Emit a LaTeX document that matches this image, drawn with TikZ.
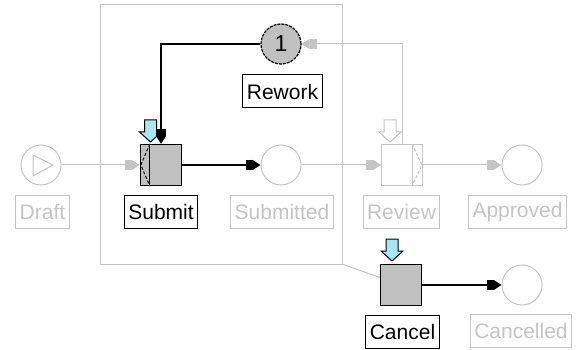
\documentclass[tikz,border=0pt]{standalone}
\usepackage{fontspec}
\setmainfont{Liberation Sans}
\usetikzlibrary{arrows.meta}
\definecolor{faint}{RGB}{196,196,196}
\definecolor{tokengray}{RGB}{192,192,192}
\definecolor{triggerblue}{RGB}{166,232,248}

\begin{document}
\begin{tikzpicture}[x=1pt, y=-1pt, line width=1pt,
    every node/.style={font=\fontsize{21}{24}\selectfont},
    place/.style={circle, minimum size=40pt, inner sep=0pt, draw=faint, fill=white},
    trans/.style={rectangle, minimum size=41pt, inner sep=0pt, draw, line width=1.3pt, fill=tokengray},
    lbl/.style={draw, minimum height=33pt, inner xsep=4pt, inner ysep=0pt},
    faded/.style={draw=faint, text=faint},
    arc/.style={line width=1.3pt, -{Square[length=7pt,width=10pt]Triangle[length=8pt,width=10pt]}},
    fadedarc/.style={draw=faint, -{Square[length=7pt,width=10pt]Triangle[length=8pt,width=10pt]}},
    trigger/.pic={\draw[pic actions] (-6,0) -- (6,0) -- (6,12) -- (11,12) -- (0,22) -- (-11,12) -- (-6,12) -- cycle;}]
  \useasboundingbox (0,0) rectangle (576,350);

  % cancellation region
  \draw[faded] (100,5) rectangle (342,264);
  \coordinate (region) at (342,264);

  % places
  \node[place] (draft) at (41,165) {};
  \draw[faded] (33,155) -- (53,165) -- (33,176) -- cycle;
  \node[place] (submitted) at (281,165) {};
  \node[place] (approved) at (522,165) {};
  \node[place] (cancelled) at (522,285) {};
  \node[place, draw=black, fill=tokengray, line width=1.2pt, dash pattern=on 3pt off 1pt, font=\fontsize{23}{24}\selectfont] (rework) at (281,44) {1};

  % transitions
  \node[trans] (submit) at (161,165) {};
  \draw ([xshift=10pt]submit.north west) -- ([xshift=10pt]submit.south west);
  \draw[dash pattern=on 3pt off 2pt] ([xshift=10pt]submit.north west) -- ([xshift=1pt]submit.west) -- ([xshift=10pt]submit.south west);
  \node[trans, draw=faint, fill=white, line width=1pt] (review) at (402,165) {};
  \draw[faint] ([xshift=-11pt]review.north east) -- ([xshift=-11pt]review.south east);
  \draw[faint, dash pattern=on 3pt off 2pt] ([xshift=-11pt]review.north east) -- ([xshift=-1pt]review.east) -- ([xshift=-11pt]review.south east);
  \node[trans] (cancel) at (401,285) {};

  % triggers
  \pic[draw, fill=triggerblue] at (150.5,120) {trigger};
  \pic[draw=faint, fill=white] at (390,120) {trigger};
  \pic[draw, fill=triggerblue] at (392,239) {trigger};

  % labels
  \node[lbl, faded] (draftlbl) at (42.5,212) {Draft};
  \node[lbl] (submitlbl) at (161,212) {Submit};
  \node[lbl, faded] (submittedlbl) at (282,212) {Submitted};
  \node[lbl, faded] (reviewlbl) at (401.5,212) {Review};
  \node[lbl, faded] (approvedlbl) at (517.5,212) {Approved};
  \node[lbl] (reworklbl) at (282.5,91.5) {Rework};
  \node[lbl] (cancellbl) at (402.5,331.5) {Cancel};
  \node[lbl, faded] (cancelledlbl) at (521,331) {Cancelled};

  % arcs
  \draw[fadedarc] (draft) -- (submit);
  \draw[arc] (submit) -- (submitted);
  \draw[fadedarc] (submitted) -- (review);
  \draw[fadedarc] (review) -- (approved);
  \draw[arc] (rework) -| (submit);
  \draw[fadedarc] (review) |- (rework);
  \draw[arc] (cancel) -- (cancelled);
  \draw[faded] (region) -- (cancel);
\end{tikzpicture}
\end{document}
